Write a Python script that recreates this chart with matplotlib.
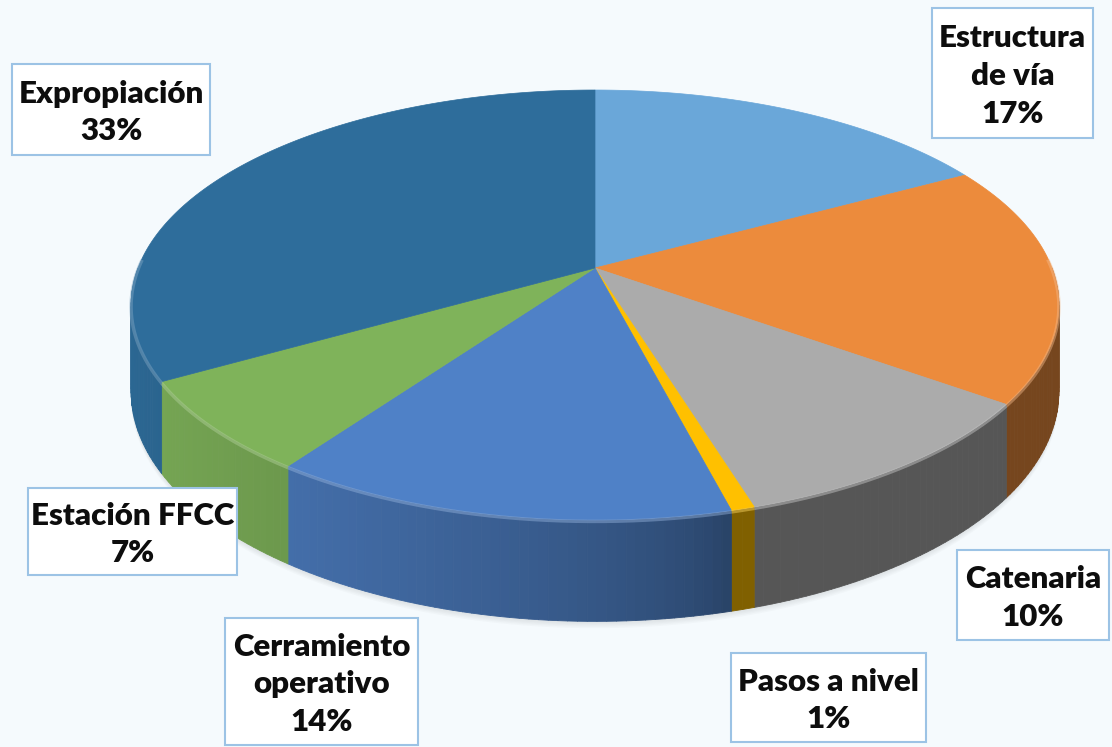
import numpy as np
import matplotlib
matplotlib.use("Agg")
import matplotlib.pyplot as plt
from matplotlib.patches import Polygon, Rectangle
from matplotlib.collections import PolyCollection
from matplotlib.colors import to_rgb

# datos (porcentajes)
categorias = ["Estructura\nde vía", "", "Catenaria", "Pasos a nivel",
              "Cerramiento\noperativo", "Estación FFCC", "Expropiación"]
valores = [17.0, 18.0, 10.3, 0.7, 13.8, 6.9, 33.3]
colores = ["#6aa7d9", "#ec8b3c", "#ababab", "#ffc000",
           "#4f81c7", "#7fb35a", "#2e6d9b"]

# cajas de etiquetas (x0, y0, x1, y1) en pixeles
cajas = [(932, 8, 1093, 138), None, (957, 550, 1109, 640), (731, 653, 926, 742),
         (225, 618, 418, 745), (28, 488, 237, 575), (12, 64, 210, 155)]

# geometria del pastel 3D
cx, cy = 595, 268
rx, ry, k = 457, 208.6, 0.172
d0 = 84

W, H = 1112, 747
fig = plt.figure(figsize=(W / 100, H / 100), dpi=100)
fig.patch.set_facecolor("#f5fafd")
ax = fig.add_axes([0, 0, 1, 1])
ax.set_xlim(0, W)
ax.set_ylim(H, 0)
ax.axis("off")
ax.set_facecolor("#f5fafd")


def punto(t):
    u, w = np.cos(t), np.sin(t)
    den = 1 + k * w
    return cx + rx * u / den, cy - ry * w / den, d0 / den


def luz(t):
    c = np.clip((-np.cos(t) + 0.25) / 1.25, 0, 1)
    return 0.5 + 0.45 * c ** 0.6


# sombra
tt = np.linspace(0, 2 * np.pi, 300)
xs, ys, ds = punto(tt)
for g in np.linspace(18, 2, 8):
    ax.add_patch(Polygon(np.column_stack([xs, ys + ds + g * 0.6 - 4]),
                         closed=True, facecolor="#8a8f94", alpha=0.045,
                         edgecolor="none", zorder=1))

# angulos de cada porcion (sentido horario desde arriba)
total = sum(valores)
bordes = np.pi / 2 - 2 * np.pi * np.concatenate([[0], np.cumsum(valores)]) / total

# paredes laterales (solo la mitad frontal)
polys, cols = [], []
for i in range(len(valores)):
    a, b = bordes[i], bordes[i + 1]
    tramos = []
    for desp in (0.0, -2 * np.pi):
        lo, hi = max(b + desp, -np.pi), min(a + desp, 0.0)
        if lo < hi:
            tramos.append((lo, hi))
    base = np.array(to_rgb(colores[i]))
    for lo, hi in tramos:
        n = max(2, int(np.degrees(hi - lo)) + 1)
        t = np.linspace(lo, hi, n)
        x, y, d = punto(t)
        for j in range(n - 1):
            polys.append([(x[j], y[j]), (x[j + 1], y[j + 1]),
                          (x[j + 1], y[j + 1] + d[j + 1]), (x[j], y[j] + d[j])])
            cols.append(np.clip(base * luz(0.5 * (t[j] + t[j + 1])), 0, 1))
ax.add_collection(PolyCollection(polys, facecolors=cols, edgecolors=cols,
                                 linewidths=0.6, zorder=2))

# caras superiores
for i in range(len(valores)):
    t = np.linspace(bordes[i], bordes[i + 1], 200)
    x, y, _ = punto(t)
    pts = np.vstack([[cx, cy], np.column_stack([x, y])])
    ax.add_patch(Polygon(pts, closed=True, facecolor=colores[i],
                         edgecolor=colores[i], linewidth=0.5, zorder=3))
    # brillo suave del borde frontal
    m = np.sin(t) < 0.05
    if m.any():
        claro = 0.6 * np.array(to_rgb(colores[i])) + 0.4
        ax.plot(x[m], y[m] + 1.5, color=claro, lw=2.5, alpha=0.45,
                solid_capstyle="butt", zorder=4)

# etiquetas
for i, caja in enumerate(cajas):
    if caja is None:
        continue
    x0, y0, x1, y1 = caja
    ax.add_patch(Rectangle((x0, y0), x1 - x0, y1 - y0, facecolor="white",
                           edgecolor="#9cc3e5", linewidth=1.5, zorder=5))
    txt = f"{categorias[i]}\n{round(valores[i])}%"
    ax.text((x0 + x1) / 2, (y0 + y1) / 2 + 3, txt, ha="center", va="center",
            fontsize=22.5, fontweight="heavy", family="Lato", color="#0d0d0d",
            linespacing=1.42, zorder=6)

fig.savefig("out.png", dpi=100, facecolor=fig.get_facecolor())
